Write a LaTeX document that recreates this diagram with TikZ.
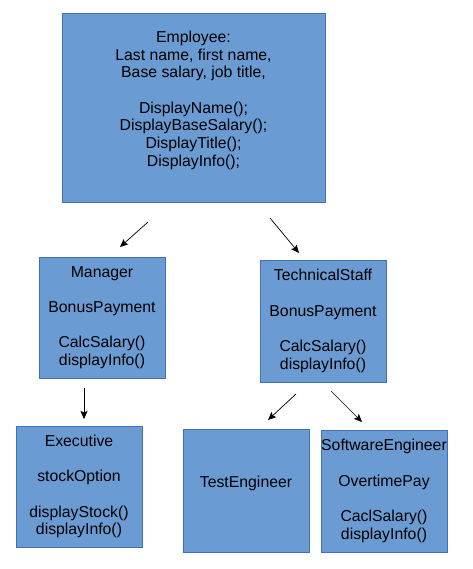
\documentclass[tikz,border=0pt]{standalone}
\usepackage{fontspec}
\setmainfont{Liberation Sans}
\usepackage{tikz}
\usetikzlibrary{arrows.meta}

\definecolor{boxfill}{RGB}{106,155,211}
\definecolor{boxline}{RGB}{66,112,180}

\tikzset{
	classbox/.style={draw=boxline, fill=boxfill, line width=0.8pt, inner sep=0pt,
		align=center, font=\fontsize{15.8}{17.7}\selectfont,
		minimum width=126pt, minimum height=122pt},
	inherit/.style={-{Stealth[length=8pt,width=7pt,inset=1.5pt]}, line width=0.7pt}
}

\begin{document}
\begin{tikzpicture}[x=1pt,y=-1pt]
	\useasboundingbox (0,0) rectangle (472,569);
	% classes
	\node[classbox, minimum width=263pt, minimum height=189pt] (employee) at (193.5,107.5)
		{Employee:\\Last name, first name,\\Base salary, job title,\\ \\DisplayName();\\DisplayBaseSalary();\\DisplayTitle();\\DisplayInfo();\\ \mbox{}};
	\node[classbox, minimum height=121pt] (manager) at (102,317.5)
		{Manager\\ \\BonusPayment\\ \\CalcSalary()\\displayInfo()};
	\node[classbox] (techstaff) at (323,321)
		{TechnicalStaff\\ \\BonusPayment\\ \\CalcSalary()\\displayInfo()};
	\node[classbox, minimum height=121pt] (executive) at (79,486.5)
		{Executive\\ \\stockOption\\ \\displayStock()\\displayInfo()};
	\node[classbox, minimum height=123pt] (testeng) at (246,490.5)
		{TestEngineer\\ \mbox{}};
	\node[classbox] (softeng) at (384,491)
		{SoftwareEngineer\\ \\OvertimePay\\ \\CaclSalary()\\displayInfo()};
	% arrow ends
	\coordinate (e1) at (148,222);
	\coordinate (m1) at (120,247);
	\coordinate (e2) at (270,218);
	\coordinate (t1) at (299,253);
	\coordinate (m2) at (84,388);
	\coordinate (x1) at (84,419);
	\coordinate (t2) at (296,394);
	\coordinate (te1) at (268,420);
	\coordinate (t3) at (331,391);
	\coordinate (se1) at (362,422);
	\draw[inherit] (e1) -- (m1);
	\draw[inherit] (e2) -- (t1);
	\draw[inherit] (m2) -- (x1);
	\draw[inherit] (t2) -- (te1);
	\draw[inherit] (t3) -- (se1);
\end{tikzpicture}
\end{document}
